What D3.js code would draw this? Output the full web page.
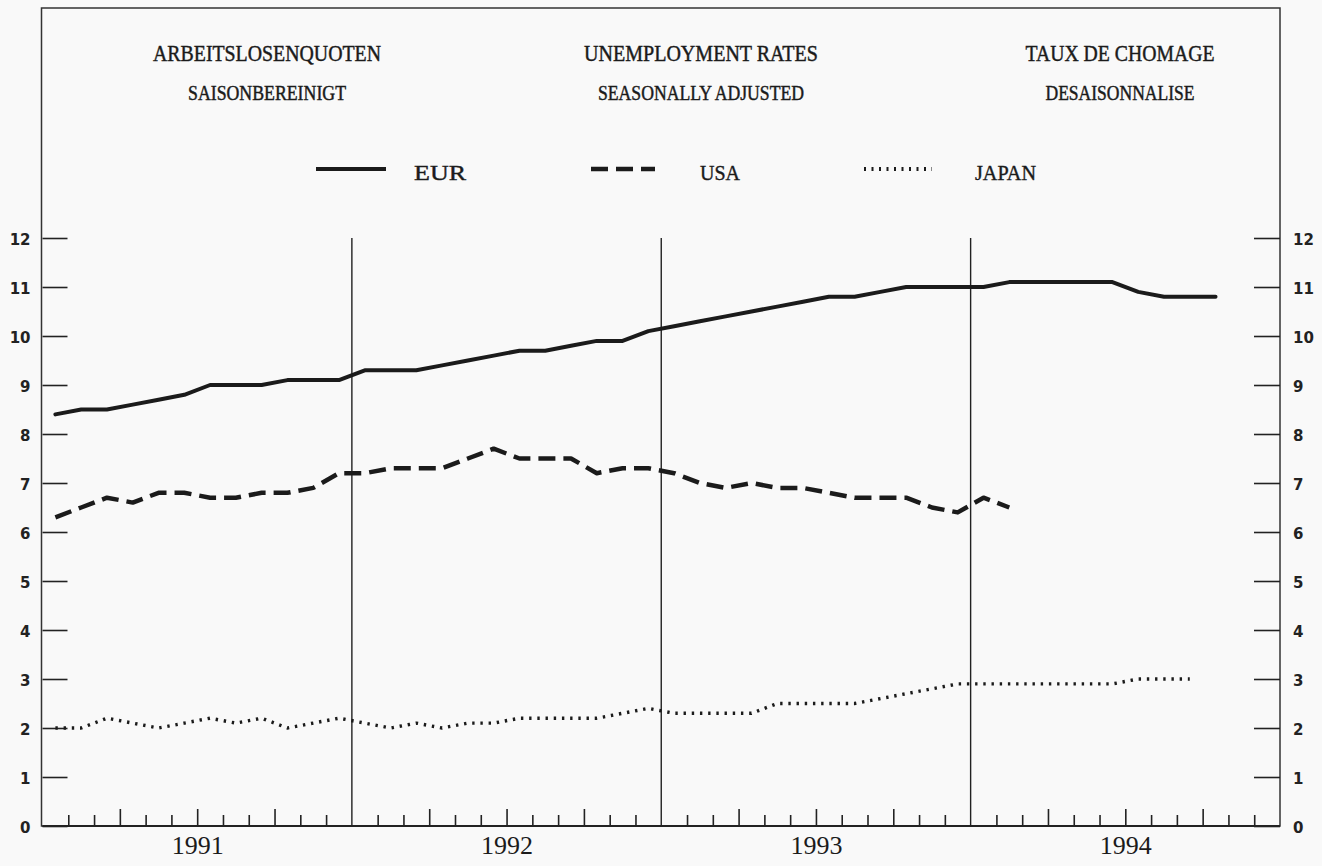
<!DOCTYPE html>
<html>
<head>
<meta charset="utf-8">
<script src="https://cdn.jsdelivr.net/npm/d3@7"></script>
<style>
  html, body { margin: 0; padding: 0; background: #f9f9f9; }
  svg { display: block; }
</style>
</head>
<body>
<svg id="chart" width="1322" height="866"></svg>
<script>
// ---- data (monthly, Jan 1991 onward) ----
const years = ["1991", "1992", "1993", "1994"];
const seriesNames = ["EUR", "USA", "JAPAN"];
const eurValues = [8.4, 8.5, 8.5, 8.6, 8.7, 8.8, 9.0, 9.0, 9.0, 9.1, 9.1, 9.1,
                   9.3, 9.3, 9.3, 9.4, 9.5, 9.6, 9.7, 9.7, 9.8, 9.9, 9.9, 10.1,
                   10.2, 10.3, 10.4, 10.5, 10.6, 10.7, 10.8, 10.8, 10.9, 11.0, 11.0, 11.0,
                   11.0, 11.1, 11.1, 11.1, 11.1, 11.1, 10.9, 10.8, 10.8, 10.8];
const usaValues = [6.3, 6.5, 6.7, 6.6, 6.8, 6.8, 6.7, 6.7, 6.8, 6.8, 6.9, 7.2,
                   7.2, 7.3, 7.3, 7.3, 7.5, 7.7, 7.5, 7.5, 7.5, 7.2, 7.3, 7.3,
                   7.2, 7.0, 6.9, 7.0, 6.9, 6.9, 6.8, 6.7, 6.7, 6.7, 6.5, 6.4,
                   6.7, 6.5];
const japanValues = [2.0, 2.0, 2.2, 2.1, 2.0, 2.1, 2.2, 2.1, 2.2, 2.0, 2.1, 2.2,
                     2.1, 2.0, 2.1, 2.0, 2.1, 2.1, 2.2, 2.2, 2.2, 2.2, 2.3, 2.4,
                     2.3, 2.3, 2.3, 2.3, 2.5, 2.5, 2.5, 2.5, 2.6, 2.7, 2.8, 2.9,
                     2.9, 2.9, 2.9, 2.9, 2.9, 2.9, 3.0, 3.0, 3.0];
const yTicks = [0, 1, 2, 3, 4, 5, 6, 7, 8, 9, 10, 11, 12];
const titleLines = [
  ["ARBEITSLOSENQUOTEN", "SAISONBEREINIGT"],
  ["UNEMPLOYMENT RATES", "SEASONALLY ADJUSTED"],
  ["TAUX DE CHOMAGE", "DESAISONNALISE"]
];

// ---- layout ----
const svg = d3.select("#chart");
const L = 42.5, R = 1280, T = 8, B = 826;
const nMonths = years.length * 12;
const x = d3.scaleLinear().domain([0, nMonths]).range([L, R]);
const y = d3.scaleLinear().domain([0, 12]).range([B, 238]);
const ink = "#1b1b1b";

// titles
const titleCenters = [267, 701, 1120];
const titleW = [[228, 158], [234, 206], [189, 149]];
titleLines.forEach((pair, i) => {
  svg.append("text").attr("x", titleCenters[i]).attr("y", 61)
    .attr("text-anchor", "middle").attr("font-family", "Liberation Serif")
    .attr("font-size", 23).attr("fill", ink).attr("stroke", ink).attr("stroke-width", 0.45)
    .attr("textLength", titleW[i][0]).attr("lengthAdjust", "spacingAndGlyphs")
    .text(pair[0]);
  svg.append("text").attr("x", titleCenters[i]).attr("y", 100)
    .attr("text-anchor", "middle").attr("font-family", "Liberation Serif")
    .attr("font-size", 20).attr("fill", ink).attr("stroke", ink).attr("stroke-width", 0.45)
    .attr("textLength", titleW[i][1]).attr("lengthAdjust", "spacingAndGlyphs")
    .text(pair[1]);
});

// styles per series
const styles = [
  { w: 4, dash: null, cap: "round" },
  { w: 4.5, dash: "17,8", cap: "butt" },
  { w: 3.4, dash: "2.4,5.8", cap: "butt" }
];

// legend
const legX = [316, 591, 864];
const legLen = [70, 64, 68];
const legTextX = [414, 700, 975];
const legTextW = [52, 40, 61];
seriesNames.forEach((name, i) => {
  svg.append("line").attr("x1", legX[i]).attr("x2", legX[i] + legLen[i])
    .attr("y1", 169).attr("y2", 169)
    .attr("stroke", ink).attr("stroke-width", i === 2 ? 4 : styles[i].w)
    .attr("stroke-dasharray", i === 2 ? "2,5.5" : styles[i].dash);
  svg.append("text").attr("x", legTextX[i]).attr("y", 180)
    .attr("font-family", "Liberation Serif").attr("font-size", 21).attr("fill", ink)
    .attr("stroke", ink).attr("stroke-width", 0.4)
    .attr("textLength", legTextW[i]).attr("lengthAdjust", "spacingAndGlyphs")
    .text(name);
});

// frame
svg.append("rect").attr("x", L - 1).attr("y", T).attr("width", R - L + 1).attr("height", B - T)
  .attr("fill", "none").attr("stroke", "#333").attr("stroke-width", 1.5);

// year separators
svg.append("g").selectAll("line").data(d3.range(1, years.length)).join("line")
  .attr("x1", d => x(d * 12)).attr("x2", d => x(d * 12))
  .attr("y1", y(12)).attr("y2", B)
  .attr("stroke", "#222").attr("stroke-width", 1.4);

// y axes
const yl = svg.append("g").attr("transform", `translate(${L},0)`)
  .call(d3.axisLeft(y).tickValues(yTicks).tickSize(-25).tickPadding(12));
const yr = svg.append("g").attr("transform", `translate(${R},0)`)
  .call(d3.axisRight(y).tickValues(yTicks).tickSize(-26).tickPadding(13));
[yl, yr].forEach(g => {
  g.select(".domain").remove();
  g.selectAll("line").attr("stroke", "#222").attr("stroke-width", 1.6);
  g.selectAll("text").attr("font-family", "DejaVu Sans").attr("font-weight", "bold")
    .attr("font-size", 15).attr("fill", "#222").attr("dy", "0.4em");
});

// x axis: monthly ticks and quarter ticks
const monthTicks = d3.range(1, nMonths).filter(m => m % 12 !== 0);
const xm = svg.append("g").attr("transform", `translate(0,${B})`)
  .call(d3.axisBottom(x).tickValues(monthTicks.filter(m => m % 3 !== 0)).tickSize(-11).tickFormat(""));
const xq = svg.append("g").attr("transform", `translate(0,${B})`)
  .call(d3.axisBottom(x).tickValues(monthTicks.filter(m => m % 3 === 0)).tickSize(-17).tickFormat(""));
[xm, xq].forEach(g => {
  g.select(".domain").remove();
  g.selectAll("line").attr("stroke", "#222").attr("stroke-width", 1.6);
});
svg.append("line").attr("x1", L).attr("x2", R).attr("y1", B).attr("y2", B)
  .attr("stroke", "#222").attr("stroke-width", 2.2);

// year labels
const xy = svg.append("g").attr("transform", `translate(0,${B})`)
  .call(d3.axisBottom(x).tickValues(years.map((d, i) => i * 12 + 6))
    .tickFormat((d, i) => years[i]).tickSize(0).tickPadding(10));
xy.select(".domain").remove();
xy.selectAll("text").attr("font-family", "Liberation Serif").attr("font-size", 26)
  .attr("fill", ink);

// series lines
const line = d3.line().x((d, i) => x(i + 0.5)).y(d => y(d));
[eurValues, usaValues, japanValues].forEach((vals, i) => {
  svg.append("path").datum(vals).attr("d", line)
    .attr("fill", "none").attr("stroke", ink)
    .attr("stroke-width", styles[i].w)
    .attr("stroke-dasharray", styles[i].dash)
    .attr("stroke-linejoin", "round")
    .attr("stroke-linecap", styles[i].cap);
});
</script>
</body>
</html>
